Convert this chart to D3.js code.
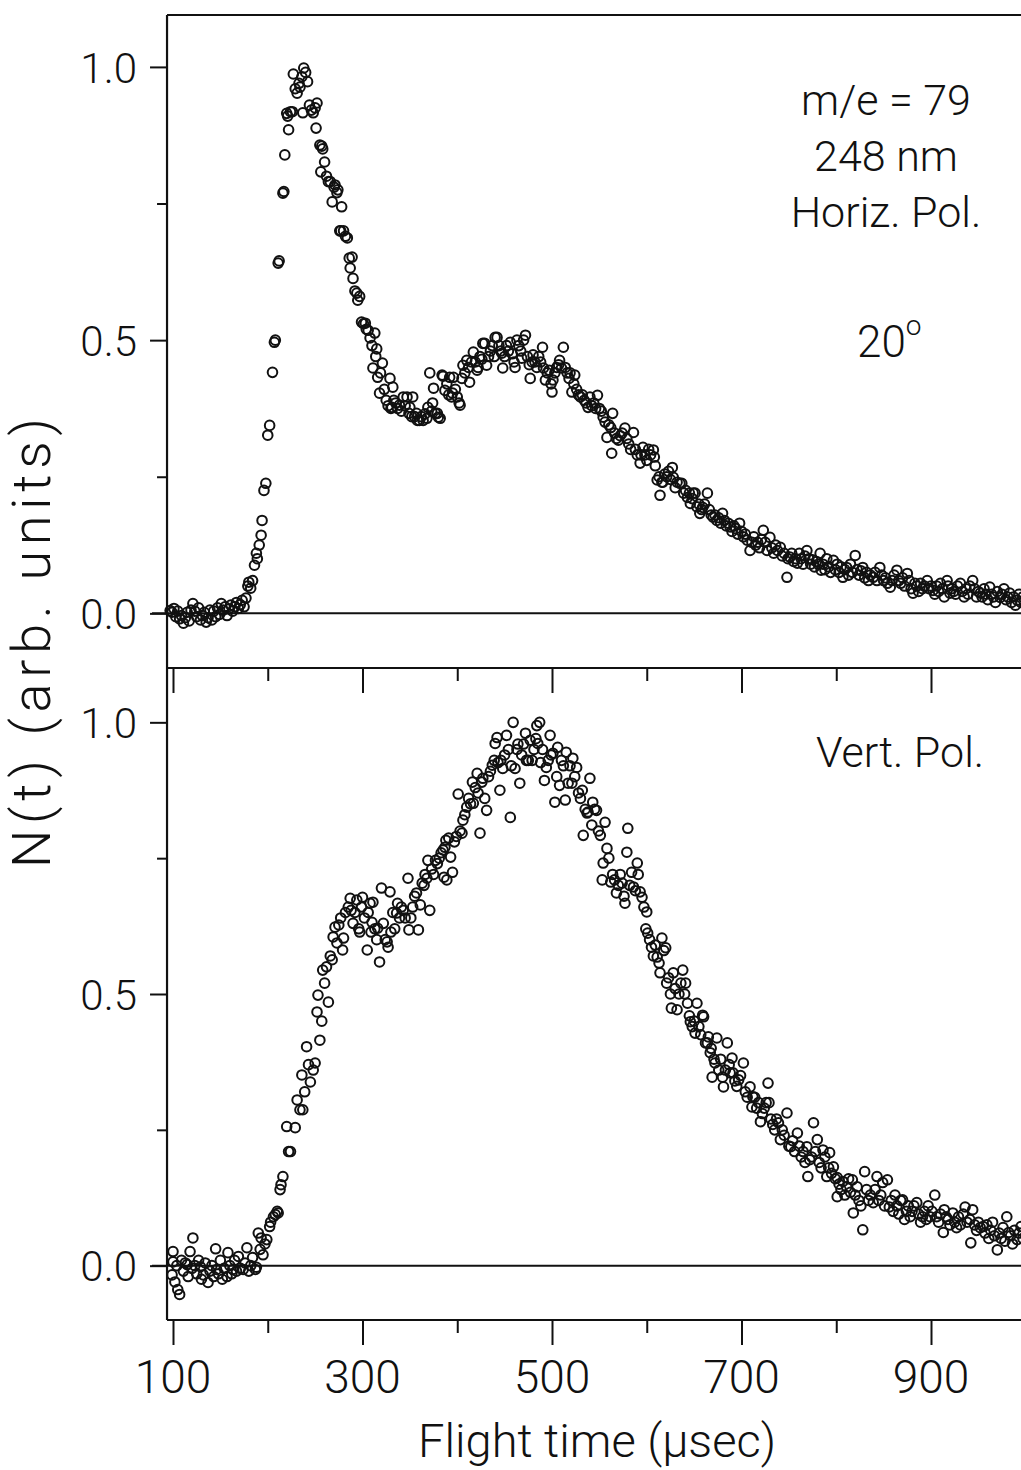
<!DOCTYPE html>
<html>
<head>
<meta charset="utf-8">
<script src="https://cdn.jsdelivr.net/npm/d3@7"></script>
<style>
  html, body { margin: 0; padding: 0; background: #fff; }
  svg { display: block; }
  text { font-family: Roboto, "Liberation Sans", sans-serif; font-weight: 300; fill: #111; }
</style>
</head>
<body>
<svg id="chart" width="1021" height="1470"></svg>
<script>
// ---------------- DATA ----------------
const xTickMajor = [100, 300, 500, 700, 900];
const xTickMinor = [200, 400, 600, 800];
const yTickMajor = [0.0, 0.5, 1.0];
const yTickMinor = [0.25, 0.75];
const xTitle = "Flight time (\u03BCsec)";
const yTitle = "N(t) (arb. units)";
const topLabels = ["m/e = 79", "248 nm", "Horiz. Pol."];
const angleLabel = "20";
const bottomLabel = "Vert. Pol.";

// Horizontal polarization: [flight time (usec), N(t)]
const horizData = [
[97,0.005],[99,0.002],[101,0.009],[103,-0.006],[105,0.004],[107,-0.01],[109,-0.004],[111,-0.018],[113,-0.008],[115,0.002],[117,-0.014],[119,0.006],[121,0.018],[123,0.004],[125,-0.006],[127,0.01],[129,-0.012],[131,-0.004],[133,0.002],[135,-0.016],[137,-0.008],[139,0.006],[141,-0.012],[143,0.004],[145,-0.006],[147,0.01],[149,-0.002],[151,0.018],[153,0.006],[155,0.012],[157,-0.004],[159,0.008],[161,0.015],[163,0.004],[165,0.012],[167,0.02],[169,0.009],[171,0.016],[173,0.024],[175,0.012],[177,0.028],[179,0.05],[180,0.057],[182,0.046],[184,0.06],[186,0.088],[188,0.11],[189,0.1],[191,0.125],[193,0.143],[194,0.17],[196,0.225],[198,0.238],[200,0.326],[202,0.344],[205,0.441],[207,0.496],[208,0.50],[211,0.641],[212,0.645],[216,0.769],[217,0.772],[218,0.839],[220,0.915],[221,0.91],[222,0.885],[224,0.918],[226,0.918],[227,0.987],[229,0.96],[231,0.952],[233,0.97],[234,0.963],[236,0.982],[237,0.916],[238,0.998],[240,0.99],[242,0.973],[244,0.93],[246,0.921],[248,0.916],[250,0.925],[251,0.888],[252,0.934],[255,0.857],[256,0.808],[257,0.855],[258,0.85],[260,0.826],[262,0.80],[264,0.79],[266,0.79],[268,0.753],[270,0.78],[271,0.784],[273,0.77],[274,0.775],[276,0.70],[277,0.70],[278,0.744],[280,0.70],[282,0.69],[284,0.687],[286,0.65],[287,0.632],[289,0.652],[290,0.613],[292,0.59],[294,0.586],[295,0.573],[297,0.58],[299,0.533],[301,0.53],[303,0.531],[304,0.52],[306,0.518],[308,0.504],[310,0.49],[311,0.449],[313,0.513],[314,0.47],[315,0.484],[316,0.432],[318,0.403],[319,0.44],[321,0.458],[323,0.41],[325,0.39],[327,0.38],[329,0.43],[330,0.375],[331,0.377],[332,0.414],[333,0.39],[335,0.385],[337,0.375],[339,0.381],[341,0.37],[343,0.396],[345,0.38],[347,0.396],[349,0.366],[350,0.377],[352,0.36],[353,0.396],[355,0.36],[357,0.366],[358,0.353],[360,0.353],[362,0.36],[364,0.353],[366,0.365],[368,0.357],[369,0.377],[371,0.44],[373,0.37],[374,0.385],[375,0.412],[377,0.366],[379,0.366],[380,0.359],[382,0.357],[384,0.436],[385,0.434],[387,0.408],[389,0.42],[391,0.40],[392,0.432],[394,0.396],[395,0.403],[396,0.432],[398,0.41],[400,0.396],[402,0.385],[403,0.381],[405,0.43],[406,0.454],[408,0.44],[410,0.463],[412,0.45],[413,0.423],[415,0.46],[417,0.478],[419,0.46],[421,0.445],[422,0.45],[424,0.47],[426,0.465],[427,0.494],[429,0.494],[431,0.454],[433,0.47],[435,0.48],[437,0.49],[439,0.47],[440,0.505],[442,0.505],[444,0.49],[446,0.48],[447,0.476],[448,0.449],[450,0.47],[452,0.49],[454,0.48],[456,0.496],[458,0.475],[460,0.46],[461,0.45],[463,0.5],[465,0.49],[467,0.48],[468,0.467],[470,0.50],[472,0.509],[474,0.47],[476,0.455],[477,0.43],[479,0.46],[480,0.473],[482,0.46],[484,0.45],[486,0.47],[488,0.46],[490,0.487],[491,0.449],[493,0.427],[495,0.44],[497,0.445],[499,0.42],[500,0.405],[501,0.427],[503,0.44],[505,0.45],[507,0.455],[508,0.463],[510,0.449],[512,0.487],[514,0.45],[516,0.44],[518,0.43],[519,0.44],[521,0.405],[523,0.42],[524,0.436],[526,0.41],[528,0.40],[530,0.396],[532,0.40],[534,0.39],[536,0.385],[538,0.377],[540,0.396],[542,0.38],[544,0.385],[546,0.375],[548,0.399],[550,0.375],[552,0.37],[554,0.359],[556,0.35],[558,0.322],[560,0.345],[562,0.34],[563,0.293],[564,0.366],[566,0.33],[568,0.32],[570,0.317],[572,0.325],[574,0.33],[577,0.339],[579,0.32],[581,0.31],[583,0.30],[586,0.331],[588,0.30],[590,0.29],[593,0.275],[594,0.29],[596,0.304],[598,0.29],[600,0.28],[602,0.30],[604,0.29],[607,0.299],[608,0.286],[609,0.27],[611,0.244],[613,0.25],[614,0.216],[616,0.24],[617,0.24],[619,0.255],[621,0.25],[623,0.26],[625,0.245],[627,0.267],[628,0.249],[630,0.23],[632,0.24],[635,0.238],[637,0.238],[639,0.22],[641,0.225],[643,0.212],[645,0.22],[646,0.201],[648,0.21],[649,0.22],[651,0.22],[653,0.195],[655,0.20],[656,0.183],[658,0.19],[659,0.194],[661,0.20],[664,0.22],[666,0.19],[668,0.18],[670,0.176],[672,0.18],[674,0.17],[676,0.175],[678,0.165],[680,0.183],[682,0.17],[684,0.16],[686,0.165],[688,0.158],[690,0.15],[692,0.16],[694,0.155],[696,0.145],[698,0.165],[700,0.15],[702,0.14],[704,0.145],[706,0.134],[709,0.115],[711,0.13],[713,0.14],[715,0.125],[717,0.13],[719,0.12],[721,0.135],[723,0.152],[725,0.13],[727,0.115],[730,0.139],[732,0.12],[734,0.11],[736,0.125],[738,0.115],[741,0.121],[743,0.105],[745,0.11],[748,0.066],[749,0.1],[751,0.103],[753,0.11],[755,0.095],[757,0.10],[759,0.092],[761,0.11],[763,0.1],[765,0.09],[767,0.105],[769,0.115],[771,0.10],[773,0.09],[775,0.098],[777,0.085],[779,0.095],[781,0.09],[783,0.11],[784,0.079],[786,0.09],[788,0.08],[790,0.1],[792,0.085],[794,0.075],[797,0.097],[799,0.08],[801,0.09],[803,0.075],[805,0.085],[807,0.066],[809,0.08],[811,0.084],[813,0.07],[815,0.09],[817,0.075],[820,0.106],[822,0.08],[824,0.07],[826,0.078],[828,0.084],[830,0.065],[832,0.075],[834,0.06],[836,0.07],[839,0.066],[841,0.075],[843,0.06],[846,0.084],[848,0.07],[850,0.06],[852,0.065],[854,0.055],[857,0.048],[859,0.06],[861,0.07],[864,0.079],[866,0.06],[868,0.055],[870,0.065],[872,0.05],[875,0.073],[877,0.06],[879,0.045],[881,0.037],[883,0.055],[885,0.05],[887,0.04],[889,0.055],[891,0.045],[893,0.05],[896,0.06],[898,0.045],[900,0.05],[902,0.042],[904,0.035],[906,0.05],[908,0.04],[910,0.055],[912,0.045],[914,0.03],[917,0.06],[918,0.05],[920,0.037],[922,0.045],[924,0.04],[926,0.035],[928,0.05],[931,0.055],[933,0.04],[935,0.03],[937,0.045],[939,0.035],[941,0.05],[944,0.06],[946,0.045],[948,0.03],[950,0.04],[952,0.037],[954,0.03],[956,0.045],[958,0.035],[960,0.025],[962,0.048],[964,0.035],[966,0.03],[968,0.02],[970,0.04],[973,0.029],[975,0.035],[977,0.045],[979,0.025],[981,0.03],[983,0.037],[985,0.02],[987,0.03],[989,0.015],[991,0.024],[993,0.035],[995,0.02],[997,0.03]
];

// Vertical polarization: [flight time (usec), N(t)]
const vertData = [
[99,-0.017],[100,0.026],[100,0.007],[102,-0.03],[104,0.0],[105,-0.044],[107,-0.053],[109,0.01],[111,-0.01],[113,0.005],[115,0.002],[116,-0.02],[118,0.026],[120,-0.005],[121,0.051],[123,0.0],[125,-0.015],[127,0.01],[129,-0.002],[130,-0.025],[132,-0.017],[134,0.005],[137,-0.031],[139,-0.01],[141,0.0],[143,-0.02],[145,0.031],[146,-0.007],[148,-0.015],[150,0.01],[152,-0.025],[154,-0.005],[157,-0.02],[158,0.024],[160,0.0],[162,-0.015],[163,-0.007],[165,0.01],[167,-0.01],[169,0.017],[171,-0.005],[174,-0.007],[176,0.005],[178,0.033],[180,-0.01],[182,0.0],[184,0.015],[187,-0.007],[188,-0.003],[190,0.06],[192,0.03],[193,0.051],[195,0.02],[197,0.04],[199,0.048],[202,0.072],[203,0.08],[206,0.09],[208,0.094],[210,0.1],[211,0.097],[213,0.14],[214,0.149],[216,0.164],[220,0.256],[222,0.21],[224,0.21],[229,0.254],[231,0.305],[234,0.287],[236,0.351],[237,0.287],[239,0.32],[241,0.403],[243,0.37],[245,0.338],[248,0.36],[250,0.373],[252,0.467],[253,0.498],[255,0.415],[257,0.45],[258,0.544],[260,0.52],[262,0.55],[264,0.485],[266,0.57],[268,0.563],[269,0.605],[271,0.623],[273,0.594],[275,0.627],[277,0.64],[279,0.581],[280,0.603],[282,0.65],[285,0.66],[287,0.676],[288,0.654],[290,0.63],[292,0.65],[294,0.673],[296,0.62],[297,0.614],[299,0.66],[300,0.678],[302,0.64],[305,0.581],[306,0.65],[308,0.667],[309,0.614],[310,0.632],[311,0.669],[313,0.62],[315,0.60],[316,0.621],[318,0.559],[320,0.695],[322,0.63],[324,0.60],[326,0.596],[327,0.586],[329,0.688],[330,0.614],[332,0.65],[334,0.62],[336,0.649],[337,0.667],[339,0.64],[341,0.66],[343,0.654],[345,0.64],[348,0.713],[349,0.618],[351,0.64],[353,0.66],[355,0.68],[357,0.686],[359,0.618],[361,0.664],[363,0.704],[365,0.70],[366,0.72],[368,0.713],[369,0.746],[371,0.654],[373,0.73],[375,0.72],[377,0.746],[379,0.74],[381,0.75],[383,0.76],[385,0.765],[386,0.715],[387,0.77],[388,0.783],[389,0.71],[391,0.787],[393,0.752],[395,0.724],[397,0.78],[399,0.79],[401,0.868],[403,0.80],[405,0.796],[406,0.82],[408,0.83],[410,0.844],[412,0.86],[414,0.85],[416,0.89],[417,0.851],[419,0.88],[421,0.906],[422,0.87],[424,0.796],[426,0.89],[427,0.897],[429,0.86],[431,0.838],[433,0.90],[435,0.91],[437,0.921],[439,0.93],[440,0.961],[442,0.972],[443,0.926],[445,0.875],[446,0.93],[448,0.915],[450,0.94],[452,0.976],[454,0.95],[456,0.825],[457,0.92],[459,1.0],[461,0.915],[463,0.95],[464,0.96],[466,0.888],[468,0.94],[470,0.96],[472,0.98],[473,0.93],[475,0.93],[477,0.967],[479,0.93],[481,0.95],[483,0.97],[484,0.994],[485,0.961],[487,1.0],[488,0.926],[490,0.95],[492,0.893],[494,0.917],[496,0.93],[498,0.976],[499,0.94],[501,0.943],[503,0.853],[505,0.90],[506,0.954],[508,0.884],[510,0.93],[512,0.92],[514,0.857],[515,0.945],[517,0.888],[519,0.92],[521,0.888],[522,0.934],[524,0.90],[526,0.917],[528,0.87],[530,0.86],[532,0.875],[533,0.792],[535,0.84],[537,0.833],[538,0.835],[540,0.897],[542,0.811],[543,0.853],[545,0.84],[547,0.838],[549,0.80],[551,0.792],[553,0.71],[554,0.741],[556,0.816],[558,0.768],[560,0.75],[562,0.706],[564,0.72],[566,0.71],[568,0.686],[570,0.70],[572,0.72],[574,0.704],[576,0.68],[577,0.667],[579,0.761],[580,0.805],[582,0.70],[584,0.724],[586,0.697],[588,0.69],[590,0.741],[591,0.72],[593,0.688],[595,0.678],[597,0.66],[599,0.62],[600,0.651],[601,0.612],[603,0.60],[605,0.586],[607,0.57],[609,0.59],[611,0.568],[613,0.557],[614,0.539],[616,0.603],[618,0.58],[620,0.585],[621,0.52],[623,0.53],[625,0.50],[626,0.474],[628,0.539],[630,0.51],[632,0.471],[634,0.50],[636,0.52],[638,0.544],[640,0.50],[641,0.52],[643,0.483],[645,0.46],[646,0.449],[648,0.44],[650,0.45],[651,0.428],[653,0.483],[655,0.44],[657,0.425],[659,0.461],[660,0.458],[662,0.41],[664,0.41],[665,0.421],[667,0.392],[668,0.40],[669,0.347],[671,0.38],[672,0.373],[674,0.419],[676,0.36],[678,0.38],[680,0.347],[681,0.329],[683,0.36],[685,0.41],[687,0.37],[688,0.355],[690,0.382],[691,0.355],[693,0.34],[695,0.33],[697,0.342],[699,0.35],[702,0.373],[704,0.32],[706,0.31],[709,0.329],[711,0.292],[712,0.311],[714,0.31],[716,0.29],[718,0.30],[720,0.265],[722,0.28],[724,0.29],[726,0.30],[728,0.336],[729,0.30],[731,0.27],[733,0.26],[735,0.25],[737,0.27],[739,0.263],[741,0.232],[743,0.25],[745,0.24],[748,0.281],[750,0.22],[752,0.219],[754,0.23],[756,0.21],[759,0.244],[761,0.22],[763,0.20],[765,0.21],[767,0.19],[769,0.219],[770,0.164],[772,0.195],[774,0.20],[776,0.263],[778,0.21],[780,0.232],[782,0.19],[784,0.18],[786,0.213],[788,0.20],[790,0.164],[792,0.18],[793,0.208],[795,0.17],[797,0.182],[799,0.16],[801,0.162],[801,0.127],[803,0.15],[805,0.14],[807,0.155],[809,0.13],[811,0.145],[813,0.16],[815,0.135],[817,0.158],[818,0.097],[820,0.13],[822,0.145],[824,0.12],[826,0.11],[828,0.066],[830,0.173],[832,0.14],[834,0.12],[836,0.13],[839,0.116],[841,0.14],[843,0.164],[845,0.12],[847,0.13],[849,0.153],[851,0.11],[854,0.158],[856,0.108],[858,0.12],[860,0.10],[862,0.13],[864,0.11],[866,0.095],[868,0.12],[870,0.121],[872,0.085],[874,0.10],[876,0.11],[878,0.09],[880,0.10],[882,0.11],[885,0.116],[887,0.095],[889,0.08],[891,0.09],[893,0.10],[895,0.085],[897,0.11],[899,0.09],[901,0.10],[904,0.13],[906,0.09],[908,0.08],[910,0.095],[913,0.061],[914,0.103],[916,0.09],[918,0.085],[920,0.075],[923,0.097],[925,0.08],[927,0.07],[929,0.09],[931,0.075],[934,0.095],[936,0.108],[938,0.08],[941,0.085],[942,0.042],[944,0.103],[946,0.075],[948,0.065],[950,0.08],[952,0.07],[955,0.072],[957,0.06],[959,0.075],[961,0.05],[963,0.065],[965,0.08],[967,0.055],[970,0.029],[972,0.06],[974,0.05],[976,0.07],[978,0.045],[980,0.09],[982,0.061],[984,0.055],[986,0.04],[988,0.065],[991,0.048],[993,0.06],[995,0.072],[997,0.05]
];

// ---------------- LAYOUT ----------------
const svg = d3.select("#chart");
const axisLeftT = 93.7;   // flight time at left frame edge
const axisRightT = 1010;  // frame continues past the picture edge

const x = d3.scaleLinear().domain([100, 900]).range([173, 931]);
const yTop = d3.scaleLinear().domain([-0.1, 1.095]).range([668, 15]);
const yBot = d3.scaleLinear().domain([-0.1, 1.1]).range([1320, 668]);

const x0 = x(axisLeftT), x1 = x(axisRightT);
const ink = "#111";

function panel(y, data) {
  const g = svg.append("g");
  g.append("line").attr("x1", x0).attr("x2", x1)
    .attr("y1", y.range()[1]).attr("y2", y.range()[1])
    .attr("stroke", ink).attr("stroke-width", 2);
  g.append("line").attr("x1", x0).attr("x2", x1)
    .attr("y1", y.range()[0]).attr("y2", y.range()[0])
    .attr("stroke", ink).attr("stroke-width", 2.2);
  g.append("line").attr("x1", x0 - 15).attr("x2", x1)
    .attr("y1", y(0)).attr("y2", y(0))
    .attr("stroke", ink).attr("stroke-width", 2);
  g.append("line").attr("x1", x0).attr("x2", x0)
    .attr("y1", y.range()[1]).attr("y2", y.range()[0])
    .attr("stroke", ink).attr("stroke-width", 2.2);

  const yAxis = d3.axisLeft(y).tickValues(yTickMajor).tickSize(17)
    .tickPadding(13).tickFormat(d3.format(".1f"));
  const ya = g.append("g").attr("transform", `translate(${x0},0)`).call(yAxis);
  ya.select(".domain").remove();
  ya.selectAll(".tick line").attr("stroke", ink).attr("stroke-width", 2);
  ya.selectAll(".tick text").attr("font-size", 42).attr("dy", "0.36em")
    .style("font-family", "Roboto, 'Liberation Sans', sans-serif").style("font-weight", 300).attr("fill", ink);
  const yAxisMinor = d3.axisLeft(y).tickValues(yTickMinor).tickSize(10).tickFormat("");
  const ym = g.append("g").attr("transform", `translate(${x0},0)`).call(yAxisMinor);
  ym.select(".domain").remove();
  ym.selectAll(".tick line").attr("stroke", ink).attr("stroke-width", 2);

  const xAxis = d3.axisBottom(x).tickValues(xTickMajor).tickSize(25).tickFormat("");
  const xa = g.append("g").attr("transform", `translate(0,${y.range()[0]})`).call(xAxis);
  xa.select(".domain").remove();
  xa.selectAll(".tick line").attr("stroke", ink).attr("stroke-width", 2);
  const xAxisMinor = d3.axisBottom(x).tickValues(xTickMinor).tickSize(13).tickFormat("");
  const xm = g.append("g").attr("transform", `translate(0,${y.range()[0]})`).call(xAxisMinor);
  xm.select(".domain").remove();
  xm.selectAll(".tick line").attr("stroke", ink).attr("stroke-width", 2);

  g.append("g").selectAll("circle").data(data).join("circle")
    .attr("cx", d => x(d[0])).attr("cy", d => y(d[1])).attr("r", 4.8)
    .attr("fill", "none").attr("stroke", ink).attr("stroke-width", 2);
  return g;
}

panel(yTop, horizData);
panel(yBot, vertData);

svg.append("g").selectAll("text").data(xTickMajor).join("text")
  .attr("x", d => x(d)).attr("y", 1393)
  .attr("text-anchor", "middle").attr("font-size", 46).text(d => d);

svg.append("text").attr("x", 597).attr("y", 1457)
  .attr("text-anchor", "middle").attr("font-size", 47).text(xTitle);
svg.append("text")
  .attr("transform", "translate(50,643) rotate(-90)")
  .attr("text-anchor", "middle").attr("font-size", 54)
  .attr("textLength", 450).attr("lengthAdjust", "spacing").text(yTitle);

const ann = svg.append("g").attr("text-anchor", "middle").attr("font-size", 43);
ann.selectAll("text.info").data(topLabels).join("text").attr("class", "info")
  .attr("x", 886).attr("y", (d, i) => 115 + i * 56).text(d => d);
const ang = svg.append("text").attr("x", 857).attr("y", 357).attr("font-size", 44);
ang.append("tspan").text(angleLabel);
ang.append("tspan").attr("dy", -22).attr("font-size", 28).text("o");
svg.append("text").attr("x", 900).attr("y", 767).attr("text-anchor", "middle")
  .attr("font-size", 43).text(bottomLabel);
</script>
</body>
</html>
